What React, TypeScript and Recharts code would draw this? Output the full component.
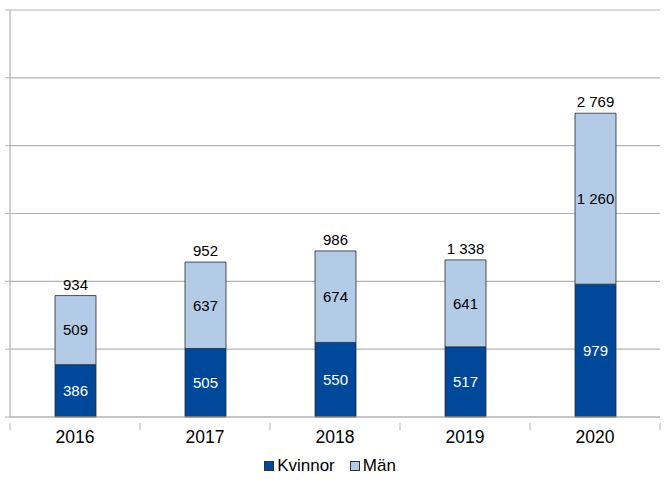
import { BarChart, Bar, XAxis, YAxis, CartesianGrid, Legend, LabelList } from "recharts";

const years = ["2016", "2017", "2018", "2019", "2020"];
const kvinnor = [386, 505, 550, 517, 979];
const man = [509, 637, 674, 641, 1260];
const totals = [934, 952, 986, 1338, 2769];
const yTicks = [0, 500, 1000, 1500, 2000, 2500, 3000];

const data = years.map((year, i) => ({
  year,
  kvinnor: kvinnor[i],
  man: man[i],
  total: totals[i],
}));

const W = 670;
const H = 485;
const M = { top: 10, right: 10, left: 0, bottom: 5 };
const Y_AXIS_W = 10;
const halfBand = (W - M.left - M.right - Y_AXIS_W) / years.length / 2;

const fmt = (v: unknown) =>
  String(v).replace(/\B(?=(\d{3})+(?!\d))/g, " ");

const font = "'Liberation Sans', Arial, sans-serif";

// year label plus the small tick marks at the category boundaries
function YearTick(props: any) {
  const { x, y, payload, index, visibleTicksCount } = props;
  const top = y - 8;
  return (
    <g>
      <line x1={x - halfBand} x2={x - halfBand} y1={top} y2={top + 7} stroke="#b3b3b3" />
      {index === visibleTicksCount - 1 && (
        <line x1={x + halfBand} x2={x + halfBand} y1={top} y2={top + 7} stroke="#b3b3b3" />
      )}
      <text x={x} y={y} dy="0.71em" textAnchor="middle" fontSize={17.5} fill="#000">
        {payload.value}
      </text>
    </g>
  );
}

function LegendContent() {
  const items = [
    { label: "Kvinnor", color: "#00499a" },
    { label: "Män", color: "#b3cbe7" },
  ];
  return (
    <div style={{ height: 28, display: "flex", justifyContent: "center", alignItems: "center", gap: 15, fontFamily: font, fontSize: 17, color: "#000" }}>
      {items.map((it) => (
        <span key={it.label} style={{ display: "flex", alignItems: "center", gap: 3 }}>
          <span style={{ width: 8, height: 8, background: it.color, border: "1px solid #333", display: "inline-block" }} />
          {it.label}
        </span>
      ))}
    </div>
  );
}

export default function App() {
  return (
    <div style={{ position: "absolute", left: 0, top: 0, background: "#fff" }}>
      <BarChart width={W} height={H} data={data} margin={M} style={{ fontFamily: font }}>
        <CartesianGrid horizontal vertical={false} stroke="#b3b3b3" strokeWidth={1.2} />
        <YAxis
          domain={[0, 3000]}
          ticks={yTicks}
          width={Y_AXIS_W}
          tickSize={5}
          tickLine={{ stroke: "#b3b3b3" }}
          axisLine={{ stroke: "#b3b3b3", strokeWidth: 1.2 }}
          tickFormatter={() => ""}
        />
        <XAxis
          dataKey="year"
          height={35}
          tickLine={false}
          axisLine={{ stroke: "#b3b3b3", strokeWidth: 1.2 }}
          tick={<YearTick />}
          tickMargin={8}
        />
        <Legend verticalAlign="bottom" height={28} content={<LegendContent />} />
        <Bar dataKey="kvinnor" name="Kvinnor" stackId="a" fill="#00499a" stroke="#2a2a2a" strokeWidth={0.8} barSize={41} isAnimationActive={false}>
          <LabelList dataKey="kvinnor" position="center" fill="#fff" fontSize={15} formatter={fmt} />
        </Bar>
        <Bar dataKey="man" name="Män" stackId="a" fill="#b3cbe7" stroke="#2a2a2a" strokeWidth={0.8} barSize={41} isAnimationActive={false}>
          <LabelList dataKey="man" position="center" fill="#000" fontSize={15} formatter={fmt} />
          <LabelList dataKey="total" position="top" offset={6} fill="#000" fontSize={15} formatter={fmt} />
        </Bar>
      </BarChart>
    </div>
  );
}
